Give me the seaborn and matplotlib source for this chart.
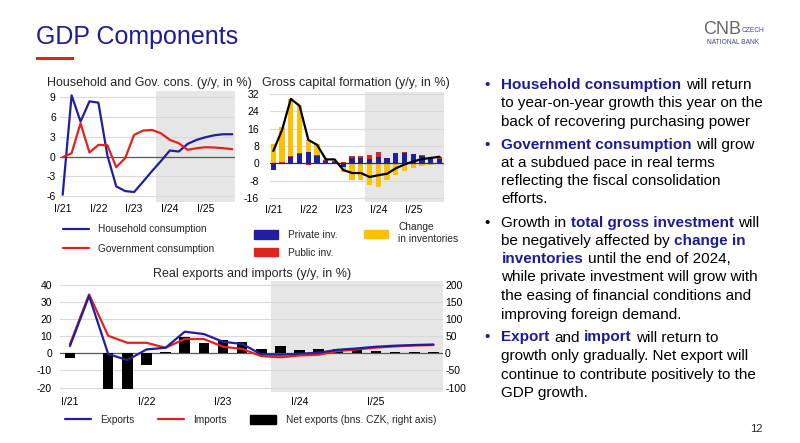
import numpy as np
import pandas as pd
import matplotlib
matplotlib.use("Agg")
import matplotlib.pyplot as plt
import seaborn as sns
from matplotlib.patches import Patch, Rectangle
from matplotlib.lines import Line2D

# ---------------- data ----------------
quarters = [f"{q}/{y}" for y in ["21", "22", "23", "24", "25"] for q in ["I", "II", "III", "IV"]]
year_ticks = ["I/21", "I/22", "I/23", "I/24", "I/25"]

household = [-5.75, 9.2, 5.25, 8.3, 8.1, 0.2, -4.5, -5.2, -5.35, -3.8, -2.2, -0.7,
             0.9, 0.75, 1.9, 2.5, 2.9, 3.2, 3.35, 3.35]
government = [-0.1, 0.5, 5.0, 0.6, 1.75, 1.7, -1.6, -0.25, 3.25, 3.9, 4.0, 3.5,
              2.5, 2.0, 1.0, 1.25, 1.4, 1.35, 1.25, 1.1]

private_inv = [-3.0, 0.2, 2.8, 4.2, 5.4, 3.4, 1.2, 0.8, -1.5, 2.3, 2.3, 2.0,
               3.1, 2.3, 4.7, 4.7, 4.2, 3.4, 2.3, 2.0]
public_inv = [0.0, 0.5, 0.6, 0.5, -0.8, 0.2, 0.2, 0.4, 0.8, 1.1, 1.1, 1.9,
              2.0, 0.0, -0.5, 0.3, 0.2, 0.3, 0.8, 1.1]
inventories = [8.8, 16.0, 26.3, 22.0, 5.4, 5.5, 0.4, 0.5, -2.4, -7.8, -7.8, -10.2,
               -10.9, -7.8, -5.0, -3.6, -2.0, -1.1, -0.8, -0.2]
gcf_total = [5.7, 15.4, 29.7, 26.5, 10.8, 8.5, 1.8, 1.8, -3.1, -4.5, -4.5, -6.3,
             -5.5, -4.8, -2.3, -0.5, 0.9, 1.9, 2.5, 3.0]

exports = [4.3, 33.6, -0.4, -3.9, 2.3, 3.3, 12.7, 11.3, 6.8, 5.5, -0.5, -0.8,
           -0.2, 0.4, 2.1, 2.9, 3.9, 4.5, 4.9, 5.2]
imports = [5.3, 34.5, 10.3, 6.2, 6.2, 3.3, 8.4, 8.4, 3.9, 2.6, -1.6, -2.3,
           -1.2, -0.8, 1.4, 2.3, 3.4, 4.1, 4.6, 4.9]
net_exports = [-12.7, 2.0, -103, -103, -34, 4.0, 49, 29, 39, 33, 14, 21,
               9.6, 12.5, 11.5, 11.5, 6.7, 3.8, 3.8, 3.8]

forecast_start = 10.5

# ---------------- style ----------------
sns.set_theme(style="white")
plt.rcParams["font.family"] = ["Liberation Sans", "DejaVu Sans"]
plt.rcParams["axes.unicode_minus"] = False

BLUE = "#1f1fa0"
RED = "#e0241c"
YELLOW = "#ffc000"
NAVY = "#1c1c96"
SHADE = "#e6e6e6"
GRID = "#d9d9d9"
ZERO = "#595959"

W, H = 800, 443
fig = plt.figure(figsize=(8, 4.43), dpi=100)
fig.patch.set_facecolor("white")


def rect(l, t, r, b):
    return [l / W, 1 - b / H, (r - l) / W, (b - t) / H]


def fx(px):
    return px / W


def fy(py):
    return 1 - py / H


x = np.arange(len(quarters))
df = pd.DataFrame({"q": x, "household": household, "government": government,
                   "private": private_inv, "public": public_inv, "inv": inventories,
                   "gcf": gcf_total, "exports": exports, "imports": imports,
                   "net": net_exports})


def base_style(ax, xlim, ylim, yticks, ypad, xpad):
    ax.set_xlim(*xlim)
    ax.set_ylim(*ylim)
    ax.set_yticks(yticks)
    ax.set_xticks([0, 4, 8, 12, 16])
    ax.set_xticklabels(year_ticks)
    for s in ax.spines.values():
        s.set_visible(False)
    ax.yaxis.grid(True, color=GRID, lw=0.8)
    ax.xaxis.grid(False)
    ax.set_axisbelow(True)
    ax.axvspan(forecast_start, xlim[1], color=SHADE, lw=0, zorder=0)
    ax.tick_params(axis="y", length=0, labelsize=7.5, pad=ypad, colors="black")
    ax.tick_params(axis="x", length=0, labelsize=7.5, pad=xpad, colors="black")
    ax.set_xlabel("")
    ax.set_ylabel("")


# ---------------- chart 1 ----------------
ax1 = fig.add_axes(rect(60, 90.7, 235, 201.7))
base_style(ax1, (-0.3, 19.3), (-6.8, 9.9), [-6, -3, 0, 3, 6, 9], 3, 1.5)
ax1.axhline(0, color=ZERO, lw=0.9, zorder=1.5)
sns.lineplot(data=df, x="q", y="household", color=BLUE, lw=1.6, ax=ax1)
sns.lineplot(data=df, x="q", y="government", color=RED, lw=1.6, ax=ax1)
ax1.set_xlabel(""); ax1.set_ylabel("")

# ---------------- chart 2 ----------------
ax2 = fig.add_axes(rect(270, 91.7, 444, 201.7))
base_style(ax2, (-0.38, 19.5), (-17.7, 33.0), [-16, -8, 0, 8, 16, 24, 32], 8, 2.2)
pos_b = np.zeros(len(x))
neg_b = np.zeros(len(x))
for col, c in [("private", BLUE), ("public", RED), ("inv", YELLOW)]:
    v = df[col].to_numpy(dtype=float)
    bottoms = np.where(v >= 0, pos_b, neg_b)
    ax2.bar(x, v, bottom=bottoms, width=0.6, color=c, lw=0, zorder=2)
    pos_b = pos_b + np.where(v >= 0, v, 0)
    neg_b = neg_b + np.where(v < 0, v, 0)
ax2.axhline(0, color="#2a2a7a", lw=0.9, zorder=3)
sns.lineplot(data=df, x="q", y="gcf", color="black", lw=1.6, ax=ax2, zorder=4)
ax2.set_xlabel(""); ax2.set_ylabel("")

# ---------------- chart 3 ----------------
ax3 = fig.add_axes(rect(60, 280.7, 443, 391.7))
ax3r = ax3.twinx()
base_style(ax3r, (-0.52, 19.5), (-112, 212.5), [-100, -50, 0, 50, 100, 150, 200], 1.5, 3.6)
ax3r.axhline(0, color=ZERO, lw=0.9, zorder=1.5)
ax3r.bar(x, df["net"], width=0.55, color="black", lw=0, zorder=2)
ax3r.set_ylabel("")

ax3.set_zorder(ax3r.get_zorder() + 1)
ax3.patch.set_visible(False)
ax3.set_xlim(-0.52, 19.5)
ax3.set_ylim(-22.4, 42.5)
ax3.set_yticks([-20, -10, 0, 10, 20, 30, 40])
ax3.set_xticks([0, 4, 8, 12, 16])
ax3.set_xticklabels(year_ticks)
for s in ax3.spines.values():
    s.set_visible(False)
ax3.grid(False)
sns.lineplot(data=df, x="q", y="imports", color=RED, lw=1.6, ax=ax3)
sns.lineplot(data=df, x="q", y="exports", color=BLUE, lw=1.6, ax=ax3)
ax3.set_xlabel(""); ax3.set_ylabel("")
ax3.tick_params(axis="y", length=0, labelsize=7.5, pad=5.8, colors="black")
ax3.tick_params(axis="x", length=0, labelsize=7.5, pad=3.6, colors="black")
ax3r.tick_params(axis="x", labelbottom=False)

# ---------------- chart titles ----------------
fig.text(fx(149), fy(83), "Household and Gov. cons. (y/y, in %)", fontsize=9,
         ha="center", va="center")
fig.text(fx(355.5), fy(83), "Gross capital formation (y/y, in %)", fontsize=9,
         ha="center", va="center")
fig.text(fx(252), fy(274), "Real exports and imports (y/y, in %)", fontsize=9,
         ha="center", va="center")

# ---------------- legends ----------------
LFS = 7.3
leg1 = fig.legend(handles=[Line2D([], [], color=BLUE, lw=1.6), Line2D([], [], color=RED, lw=1.6)],
                  labels=["Household consumption", "Government consumption"],
                  loc="upper left", bbox_to_anchor=(fx(62.5), fy(224.5)), frameon=False,
                  fontsize=LFS, handlelength=2.6, handletextpad=0.9, labelspacing=0.9,
                  borderpad=0, borderaxespad=0)
leg2 = fig.legend(handles=[Patch(color=BLUE), Patch(color=RED)],
                  labels=["Private inv.", "Public inv."],
                  loc="upper left", bbox_to_anchor=(fx(254), fy(230)), frameon=False,
                  fontsize=LFS, handlelength=2.4, handleheight=0.85, handletextpad=1.0,
                  labelspacing=0.75, borderpad=0, borderaxespad=0)
leg3 = fig.legend(handles=[Patch(color=YELLOW)], labels=["Change\nin inventories"],
                  loc="upper left", bbox_to_anchor=(fx(364), fy(222.5)), frameon=False,
                  fontsize=LFS, handlelength=2.4, handleheight=0.85, handletextpad=1.0,
                  borderpad=0, borderaxespad=0)
leg4 = fig.legend(handles=[Line2D([], [], color=BLUE, lw=1.6), Line2D([], [], color=RED, lw=1.6),
                           Patch(color="black")],
                  labels=["Exports", "Imports", "Net exports (bns. CZK, right axis)"],
                  loc="upper left", bbox_to_anchor=(fx(65), fy(415)), frameon=False, ncol=3,
                  fontsize=LFS, handlelength=2.55, handleheight=0.85, handletextpad=0.95,
                  columnspacing=2.3, borderpad=0, borderaxespad=0)

# ---------------- header ----------------
renderer = fig.canvas.get_renderer()
fig.text(fx(36), fy(44), "GDP Components", fontsize=18, color=NAVY, va="baseline", ha="left")
fig.patches.append(Rectangle((fx(36), fy(60)), fx(38), 3.5 / H, transform=fig.transFigure,
                             color=RED, lw=0))

narrow = ["Liberation Sans Narrow", "Liberation Sans"]
cnb = fig.text(fx(703), fy(33.5), "CNB", fontsize=13, color="#66686b", va="baseline", ha="left",
               family=narrow)
cnb_bb = cnb.get_window_extent(renderer)
fig.text((cnb_bb.x1 + 1) / W, fy(31.5), "CZECH", fontsize=4.8, color="#3c4a8c",
         va="baseline", ha="left", family=narrow)
nb_top_px = H - cnb_bb.y0 + 1
fig.text(fx(707), fy(nb_top_px), "NATIONAL BANK", fontsize=4.8, color="#3c4a8c", va="top",
         ha="left", family=narrow)
fig.text(fx(763), fy(432), "12", fontsize=8, ha="right", va="baseline")

# ---------------- bullet text ----------------
TFS = 11


def width_of(s, bold=False):
    t = fig.text(0, 0, s, fontsize=TFS, fontweight="bold" if bold else "normal")
    w = t.get_window_extent(renderer).width
    t.remove()
    return w


space_w = width_of("a a") - width_of("aa")


def draw_line(x_px, y_px, segs):
    xx = x_px
    for i, (s, b) in enumerate(segs):
        if i > 0:
            xx += space_w
        t = fig.text(fx(xx), fy(y_px), s, fontsize=TFS, va="baseline", ha="left",
                     color=NAVY if b else "black", fontweight="bold" if b else "normal")
        xx += t.get_window_extent(renderer).width


TX = 501.5
BX = 484
lines = [
    (84, [("Household consumption", 1), ("will return", 0)], NAVY),
    (102.5, [("to year-on-year growth this year on the", 0)], None),
    (121, [("back of recovering purchasing power", 0)], None),
    (143.5, [("Government consumption", 1), ("will grow", 0)], NAVY),
    (162, [("at a subdued pace in real terms", 0)], None),
    (180, [("reflecting the fiscal consolidation", 0)], None),
    (198.5, [("efforts.", 0)], None),
    (222, [("Growth in", 0), ("total gross investment", 1), ("will", 0)], "black"),
    (240.5, [("be negatively affected by", 0), ("change in", 1)], None),
    (258, [("inventories", 1), ("until the end of 2024,", 0)], None),
    (276.5, [("while private investment will grow with", 0)], None),
    (295, [("the easing of financial conditions and", 0)], None),
    (313.5, [("improving foreign demand.", 0)], None),
    (336.5, [("Export", 1), ("and", 0), ("import", 1), ("will return to", 0)], NAVY),
    (355, [("growth only gradually. Net export will", 0)], None),
    (373.5, [("continue to contribute positively to the", 0)], None),
    (392, [("GDP growth.", 0)], None),
]
for yc, segs, bullet in lines:
    yb = yc + 5
    if bullet is not None:
        fig.text(fx(BX), fy(yb), "\u2022", fontsize=TFS, color=bullet, va="baseline", ha="left")
    draw_line(TX, yb, segs)

fig.savefig("out.png", dpi=100, facecolor="white")
